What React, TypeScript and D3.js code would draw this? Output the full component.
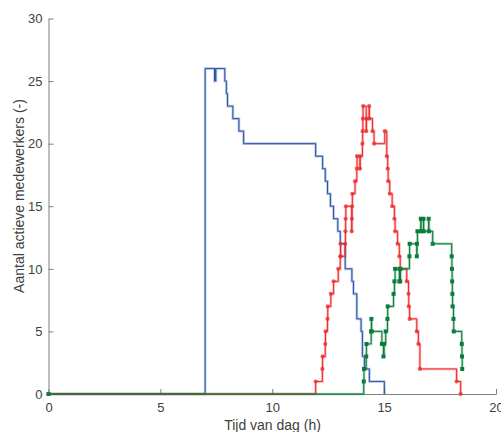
import React, { useEffect, useRef } from 'react'
import * as d3 from 'd3'

// stairs data: [tijd (h), aantal medewerkers]
const blueSeries: [number, number][] = [
  [0, 0], [7.0, 26], [7.42, 25], [7.44, 26], [7.46, 25], [7.48, 26],
  [7.88, 25], [7.95, 24], [8.0, 23], [8.24, 22], [8.51, 21], [8.72, 20],
  [11.94, 19], [12.25, 18], [12.37, 17], [12.47, 16], [12.6, 15], [12.74, 14],
  [12.93, 13], [13.04, 12], [13.26, 10], [13.56, 9], [13.63, 8], [13.78, 6],
  [13.97, 5], [14.03, 3], [14.12, 2], [14.34, 1], [15.01, 0],
]

const redSeries: [number, number][] = [
  [0, 0], [11.94, 1], [12.24, 2], [12.25, 3], [12.37, 4], [12.38, 5],
  [12.47, 6], [12.48, 7], [12.62, 8], [12.74, 9], [12.95, 10],
  [13.04, 11], [13.05, 12], [13.06, 11], [13.26, 12], [13.27, 13],
  [13.28, 14], [13.29, 15], [13.55, 13], [13.56, 14], [13.57, 15],
  [13.58, 16], [13.7, 17], [13.78, 18], [13.79, 19], [13.92, 18],
  [13.93, 19], [14.03, 20], [14.04, 21], [14.05, 22], [14.06, 23],
  [14.2, 21], [14.21, 22], [14.33, 23], [14.34, 22], [14.48, 21],
  [14.55, 20], [15.03, 21], [15.12, 19], [15.16, 18], [15.18, 17],
  [15.25, 16], [15.36, 15], [15.46, 14], [15.49, 13], [15.6, 12],
  [15.68, 11], [15.72, 10], [16.01, 9], [16.09, 8], [16.1, 7],
  [16.14, 6], [16.46, 5], [16.53, 4], [16.6, 2], [18.24, 1], [18.42, 0],
]

const greenSeries: [number, number][] = [
  [0, 0], [14.09, 1], [14.1, 2], [14.2, 3], [14.21, 4], [14.42, 5],
  [14.43, 6], [14.44, 5], [14.9, 4], [14.97, 3], [15.0, 4], [15.07, 5],
  [15.15, 6], [15.16, 7], [15.42, 8], [15.46, 9], [15.49, 10], [15.68, 9],
  [15.69, 10], [15.72, 9], [15.73, 10], [16.13, 11], [16.14, 12],
  [16.46, 11], [16.47, 12], [16.49, 13], [16.64, 14], [16.65, 13],
  [16.76, 14], [16.77, 13], [16.99, 14], [17.0, 13], [17.17, 12],
  [18.02, 11], [18.03, 10], [18.04, 9], [18.05, 8], [18.06, 7],
  [18.1, 6], [18.11, 5], [18.47, 4], [18.48, 3], [18.49, 2],
]

const xTicks = [0, 5, 10, 15, 20]
const yTicks = [0, 5, 10, 15, 20, 25, 30]

const font = '"Liberation Sans", Arial, Helvetica, sans-serif'

function App() {
  const svgRef = useRef<SVGSVGElement>(null)

  useEffect(() => {
    const width = 501
    const height = 432
    const svg = d3.select(svgRef.current)
    svg.selectAll('*').remove()
    svg.attr('width', width).attr('height', height)

    const x = d3.scaleLinear().domain([0, 20]).range([48.5, 496])
    const y = d3.scaleLinear().domain([0, 30]).range([394, 18.5])

    const axisColor = '#7f7f7f'
    const textColor = '#404040'

    const xAxis = d3.axisBottom(x).tickValues(xTicks).tickSizeInner(-5).tickSizeOuter(0).tickPadding(9)
    const yAxis = d3.axisLeft(y).tickValues(yTicks).tickSizeInner(-5).tickSizeOuter(0).tickPadding(6)

    const gx = svg.append('g').attr('transform', `translate(0, ${y(0)})`).call(xAxis)
    const gy = svg.append('g').attr('transform', `translate(${x(0)}, 0)`).call(yAxis)
    ;[gx, gy].forEach(g => {
      g.select('.domain').attr('stroke', axisColor)
      g.selectAll('.tick line').attr('stroke', axisColor)
      g.selectAll('.tick text')
        .attr('fill', textColor)
        .style('font-family', font)
        .style('font-size', '13px')
    })

    const line = d3.line<[number, number]>()
      .x(d => x(d[0]))
      .y(d => y(d[1]))
      .curve(d3.curveStepAfter)

    const series = [
      { data: blueSeries, color: '#2a56a8', marker: 'none' },
      { data: redSeries, color: '#ee2a2a', marker: 'circle' },
      { data: greenSeries, color: '#0b7d3a', marker: 'square' },
    ]

    series.forEach(s => {
      const g = svg.append('g')
      g.append('path')
        .attr('d', line(s.data))
        .attr('fill', 'none')
        .attr('stroke', s.color)
        .attr('stroke-opacity', 0.35)
        .attr('stroke-width', 2.6)
      g.append('path')
        .attr('d', line(s.data))
        .attr('fill', 'none')
        .attr('stroke', s.color)
        .attr('stroke-width', 1)
      if (s.marker === 'circle') {
        g.selectAll('circle')
          .data(s.data)
          .join('circle')
          .attr('cx', d => x(d[0]))
          .attr('cy', d => y(d[1]))
          .attr('r', 2.1)
          .attr('fill', s.color)
          .attr('fill-opacity', 0.75)
      } else if (s.marker === 'square') {
        g.selectAll('rect')
          .data(s.data)
          .join('rect')
          .attr('x', d => x(d[0]) - 2)
          .attr('y', d => y(d[1]) - 2)
          .attr('width', 4)
          .attr('height', 4)
          .attr('fill', s.color)
      }
    })

    svg.append('text')
      .attr('x', 272.5)
      .attr('y', 430)
      .attr('text-anchor', 'middle')
      .attr('fill', textColor)
      .style('font-family', font)
      .style('font-size', '14px')
      .text('Tijd van dag (h)')

    svg.append('text')
      .attr('transform', `translate(24, 196) rotate(-90)`)
      .attr('text-anchor', 'middle')
      .attr('fill', textColor)
      .style('font-family', font)
      .style('font-size', '14px')
      .text('Aantal actieve medewerkers (-)')
  }, [])

  return (
    <div style={{ position: 'absolute', left: 0, top: 0, background: '#fff' }}>
      <svg ref={svgRef} style={{ display: 'block' }}></svg>
    </div>
  )
}

export default App
